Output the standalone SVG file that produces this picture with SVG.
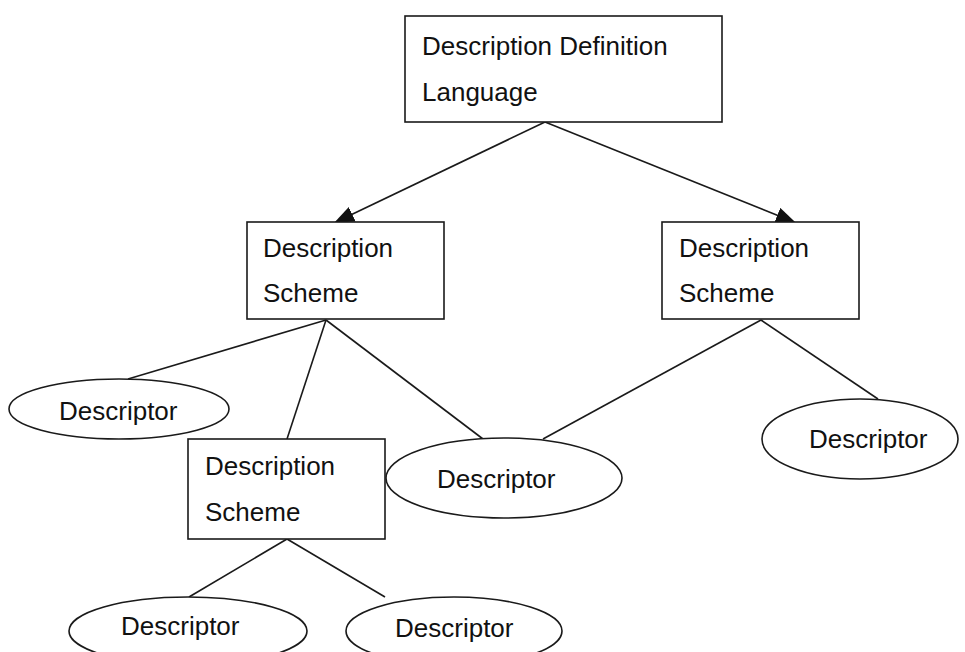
<svg xmlns="http://www.w3.org/2000/svg" width="965" height="652" viewBox="0 0 965 652">
<style>
.box{fill:#fff;stroke:#1a1a1a;stroke-width:1.6}
.ell{fill:#fff;stroke:#1a1a1a;stroke-width:1.6}
.ln{fill:none;stroke:#1a1a1a;stroke-width:1.6}
.t{font-family:"Liberation Sans",Arial,sans-serif;font-size:26px;fill:#111}
</style>
<defs>
<marker id="arr" viewBox="0 0 20 16" refX="18" refY="8" markerWidth="20" markerHeight="16" markerUnits="userSpaceOnUse" orient="auto">
<path d="M0,0 L20,8 L0,16 Z" fill="#111"/>
</marker>
</defs>
<rect width="965" height="652" fill="#fff"/>
<g id="connectors">
<line class="ln" x1="545" y1="122" x2="336" y2="222" marker-end="url(#arr)"/>
<line class="ln" x1="545" y1="122" x2="794" y2="222" marker-end="url(#arr)"/>
<line class="ln" x1="326" y1="320" x2="128" y2="379"/>
<line class="ln" x1="326" y1="320" x2="287" y2="439"/>
<line class="ln" x1="326" y1="320" x2="483" y2="439"/>
<line class="ln" x1="761" y1="320" x2="543" y2="439"/>
<line class="ln" x1="761" y1="320" x2="878" y2="399"/>
<line class="ln" x1="287" y1="539" x2="189" y2="597"/>
<line class="ln" x1="287" y1="539" x2="385" y2="597"/>
</g>
<g id="ddl">
<rect class="box" x="405" y="16" width="317" height="106"/>
<text class="t" x="422" y="55">Description Definition</text>
<text class="t" x="422" y="101">Language</text>
</g>
<g id="ds-left">
<rect class="box" x="247" y="222" width="197" height="97"/>
<text class="t" x="263" y="257">Description</text>
<text class="t" x="263" y="302">Scheme</text>
</g>
<g id="ds-right">
<rect class="box" x="662" y="222" width="197" height="97"/>
<text class="t" x="679" y="257">Description</text>
<text class="t" x="679" y="302">Scheme</text>
</g>
<g id="ds-lower">
<rect class="box" x="188" y="439" width="197" height="100"/>
<text class="t" x="205" y="475">Description</text>
<text class="t" x="205" y="521">Scheme</text>
</g>
<g id="d-left">
<ellipse class="ell" cx="119" cy="409" rx="110" ry="30"/>
<text class="t" x="59" y="420">Descriptor</text>
</g>
<g id="d-middle">
<ellipse class="ell" cx="504" cy="478" rx="118" ry="40"/>
<text class="t" x="437" y="488">Descriptor</text>
</g>
<g id="d-right">
<ellipse class="ell" cx="860" cy="439" rx="98" ry="40"/>
<text class="t" x="809" y="448">Descriptor</text>
</g>
<g id="d-bottom-left">
<ellipse class="ell" cx="188" cy="631" rx="119" ry="34"/>
<text class="t" x="121" y="635">Descriptor</text>
</g>
<g id="d-bottom-right">
<ellipse class="ell" cx="454" cy="631" rx="108" ry="34"/>
<text class="t" x="395" y="637">Descriptor</text>
</g>
</svg>
